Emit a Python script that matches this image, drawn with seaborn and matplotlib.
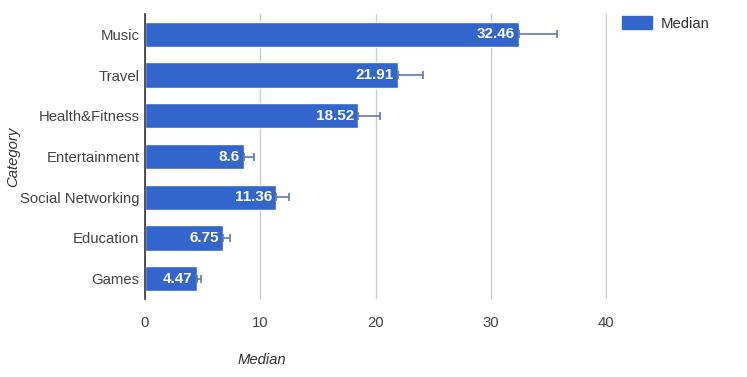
import numpy as np
import pandas as pd
import seaborn as sns
import matplotlib.pyplot as plt
from matplotlib.patches import Patch

categories = ['Music', 'Travel', 'Health&Fitness', 'Entertainment',
              'Social Networking', 'Education', 'Games']
medians = [32.46, 21.91, 18.52, 8.6, 11.36, 6.75, 4.47]
upper = [35.7, 24.1, 20.4, 9.45, 12.5, 7.4, 4.86]
xticks = [0, 10, 20, 30, 40]

df = pd.DataFrame({'category': categories, 'median': medians})

sns.set_style('white')
plt.rcParams['font.family'] = ['Liberation Sans', 'DejaVu Sans']

fig = plt.figure(figsize=(7.47, 3.77), dpi=100)
ax = fig.add_axes([145 / 747, 1 - 299 / 377, 462 / 747, 285 / 377])

sns.barplot(data=df, x='median', y='category', orient='h', color='#3366cc',
            saturation=1, width=0.62, errorbar=None, ax=ax, zorder=2)

# interval whiskers, only the upper side shows past the bar
err = np.array(upper) - np.array(medians)
ax.errorbar(medians, np.arange(len(categories)),
            xerr=[np.zeros(len(err)), err], fmt='none',
            ecolor='#6079b0', elinewidth=1.2, capsize=3, capthick=1.2, zorder=3)

for i, v in enumerate(medians):
    ax.text(v - 0.35, i, f'{v:g}', ha='right', va='center', color='white',
            fontsize=11, fontweight='bold', zorder=4)

ax.set_xlim(0, 40.08)
ax.set_ylim(len(categories) - 0.5, -0.5)
ax.set_xticks(xticks)
ax.grid(visible=True, axis='x', color='#cccccc', linewidth=1)
ax.set_axisbelow(True)
for s in ['top', 'right', 'bottom']:
    ax.spines[s].set_visible(False)
ax.spines['left'].set_color('#333333')
ax.spines['left'].set_linewidth(1.2)
ax.spines['left'].set_zorder(5)
ax.tick_params(axis='both', length=0, labelsize=10.7, labelcolor='#444444')
ax.tick_params(axis='x', pad=12)
ax.tick_params(axis='y', pad=4)

ax.set_xlabel('Median', fontsize=10.7, style='italic', color='#333333')
ax.xaxis.set_label_coords(0.254, -0.19)
ax.set_ylabel('Category', fontsize=10.7, style='italic', color='#333333')
ax.yaxis.set_label_coords(-0.27, 0.5)

ax.legend(handles=[Patch(color='#3366cc', label='Median')], loc='upper left',
          bbox_to_anchor=(609 / 747, 1 - 3 / 377), bbox_transform=fig.transFigure,
          frameon=False, handlelength=2.0, handleheight=0.9, handletextpad=0.6,
          fontsize=10.7, labelcolor='#333333')

plt.savefig('out.png', dpi=100)
